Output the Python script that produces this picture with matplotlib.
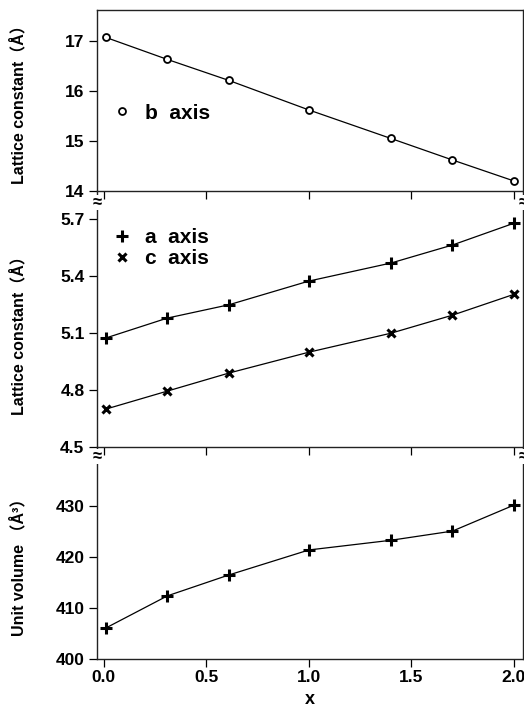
import matplotlib.pyplot as plt

plt.rcParams['font.family'] = ['Liberation Sans', 'Noto Sans CJK SC', 'DejaVu Sans']
plt.rcParams['font.weight'] = 'bold'

# composition x
x = [0.01, 0.31, 0.61, 1.0, 1.4, 1.7, 2.0]

# lattice constants (angstrom)
b_axis = [17.07, 16.63, 16.21, 15.62, 15.05, 14.62, 14.20]
a_axis = [5.075, 5.180, 5.250, 5.375, 5.470, 5.565, 5.680]
c_axis = [4.700, 4.795, 4.890, 5.000, 5.100, 5.195, 5.305]

# unit cell volume (angstrom^3)
volume = [406.1, 412.4, 416.5, 421.4, 423.3, 425.1, 430.2]

xticks = [0.0, 0.5, 1.0, 1.5, 2.0]

fig = plt.figure(figsize=(5.24, 7.11), dpi=100)
left, width = 0.185, 0.813
ax1 = fig.add_axes([left, 0.7314, width, 0.2546])
ax2 = fig.add_axes([left, 0.3713, width, 0.3601])
ax3 = fig.add_axes([left, 0.0731, width, 0.2982])

b_style = dict(marker='o', ms=5, mfc='white', mec='black', mew=1.3, color='black')
a_style = dict(marker='+', ms=8, mew=2.2, color='black')
c_style = dict(marker='x', ms=6, mew=2.2, color='black')

# top panel: b axis
ax1.plot(x, b_axis, lw=0.9, **b_style)
ax1.set_ylim(14, 17.62)
ax1.set_yticks([14, 15, 16, 17])

# middle panel: a and c axis
ax2.plot(x, a_axis, lw=0.9, **a_style)
ax2.plot(x, c_axis, lw=0.9, **c_style)
ax2.set_ylim(4.5, 5.85)
ax2.set_yticks([4.5, 4.8, 5.1, 5.4, 5.7])

# bottom panel: volume
ax3.plot(x, volume, lw=0.9, **a_style)
ax3.set_ylim(400, 441.6)
ax3.set_yticks([400, 410, 420, 430])

for ax in (ax1, ax2, ax3):
    ax.patch.set_alpha(0)
    ax.set_xlim(-0.034, 2.044)
    ax.set_xticks(xticks)
    ax.tick_params(direction='out', length=6, width=0.9, labelsize=12.5, pad=2)
    ax.tick_params(axis='y', pad=3)
    for s in ax.spines.values():
        s.set_linewidth(1.0)
        s.set_color('#222222')

for ax in (ax2, ax3):
    ax.spines['top'].set_visible(False)
    # axis break marks
    for xs in (0, 1):
        ax.text(xs, 0.955, '≈', transform=ax.transAxes, ha='center', va='center',
                fontsize=12, fontweight='bold',
                bbox=dict(facecolor='white', edgecolor='none', pad=0.2))

ax1.tick_params(axis='x', labelbottom=False)
ax2.tick_params(axis='x', labelbottom=False)
ax1.yaxis.set_major_formatter(plt.FormatStrFormatter('%d'))
ax2.yaxis.set_major_formatter(plt.FormatStrFormatter('%.1f'))
ax3.xaxis.set_major_formatter(plt.FormatStrFormatter('%.1f'))

# legends: marker only
hb, = ax1.plot([], [], ls='none', **b_style)
ha, = ax2.plot([], [], ls='none', **a_style)
hc, = ax2.plot([], [], ls='none', **c_style)
ax1.legend([hb], ['b  axis'], frameon=False, loc='center left',
           bbox_to_anchor=(0.0, 0.43), handlelength=1.0, handletextpad=0.6,
           fontsize=15, borderaxespad=0.3)
ax2.legend([ha, hc], ['a  axis', 'c  axis'], frameon=False, loc='center left',
           bbox_to_anchor=(0.0, 0.776), handlelength=1.0, handletextpad=0.6,
           fontsize=15, labelspacing=0.1, borderaxespad=0.3)

ax1.set_ylabel('Lattice constant（Å）', fontsize=11.5, fontweight='bold')
ax2.set_ylabel('Lattice constant（Å）', fontsize=11.5, fontweight='bold')
ax3.set_ylabel('Unit volume （Å³）', fontsize=11.5, fontweight='bold')
ax1.yaxis.set_label_coords(-0.165, 0.5)
ax2.yaxis.set_label_coords(-0.165, 0.45)
ax3.yaxis.set_label_coords(-0.165, 0.45)
ax3.set_xlabel('x', fontsize=13, fontweight='bold', labelpad=4)

fig.savefig('out.png', dpi=100)
